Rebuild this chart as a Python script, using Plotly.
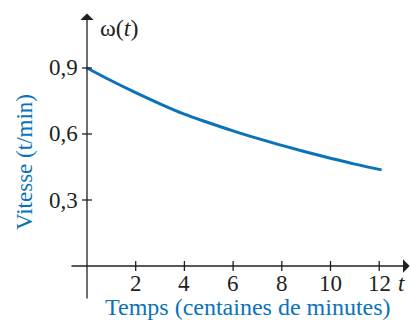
import plotly.graph_objects as go

# Angular speed over time
temps = [0, 1, 2, 3, 4, 5, 6, 7, 8, 9, 10, 11, 12.1]
vitesse = [0.900, 0.842, 0.788, 0.737, 0.690, 0.651, 0.614, 0.580, 0.548, 0.518, 0.490, 0.463, 0.437]

x_ticks = [2, 4, 6, 8, 10, 12]
x_tick_labels = ["2", "4", "6", "8", "10", "12"]
y_ticks = [0.3, 0.6, 0.9]
y_tick_labels = ["0,3", "0,6", "0,9"]

BLUE = "#0a72ba"
INK = "#231f20"
SERIF = "Liberation Serif"

fig = go.Figure()
fig.add_trace(go.Scatter(
    x=temps, y=vitesse, mode="lines",
    line=dict(color=BLUE, width=3, shape="spline"),
    hoverinfo="skip", showlegend=False,
))

X_MIN, X_MAX = -3.573, 13.265
Y_MIN, Y_MAX = -0.2545, 1.209

annotations = []
shapes = []

# Axes drawn as arrows through the origin
annotations.append(dict(
    x=13.25, y=0, ax=-0.70, ay=0, xref="x", yref="y", axref="x", ayref="y",
    showarrow=True, arrowhead=1, arrowsize=1.7, arrowwidth=1.3, arrowcolor=INK, text="",
))
annotations.append(dict(
    x=0, y=1.148, ax=0, ay=-0.155, xref="x", yref="y", axref="x", ayref="y",
    showarrow=True, arrowhead=1, arrowsize=1.7, arrowwidth=1.3, arrowcolor=INK, text="",
))

# Ticks crossing the axes
for v, lab in zip(x_ticks, x_tick_labels):
    shapes.append(dict(type="line", xref="x", yref="y", ysizemode="pixel", yanchor=0,
                       x0=v, x1=v, y0=-5, y1=5, line=dict(color=INK, width=1.3)))
    annotations.append(dict(x=v, y=0, xref="x", yref="y", text=lab, showarrow=False,
                            xanchor="center", yanchor="top", yshift=-3,
                            font=dict(family=SERIF, size=23, color=INK)))
for v, lab in zip(y_ticks, y_tick_labels):
    shapes.append(dict(type="line", xref="x", yref="y", xsizemode="pixel", xanchor=0,
                       x0=-5, x1=5, y0=v, y1=v, line=dict(color=INK, width=1.3)))
    annotations.append(dict(x=0, y=v, xref="x", yref="y", text=lab, showarrow=False,
                            xanchor="right", yanchor="middle", xshift=-7,
                            font=dict(family=SERIF, size=23, color=INK)))

# Axis names
annotations.append(dict(x=0, y=1.082, xref="x", yref="y", text="ω(<i>t</i>)", showarrow=False,
                        xanchor="left", yanchor="middle", xshift=11,
                        font=dict(family=SERIF, size=24, color=INK)))
annotations.append(dict(x=13.265, y=0, xref="x", yref="y", text="<i>t</i>", showarrow=False,
                        xanchor="right", yanchor="top", yshift=-3, xshift=-3,
                        font=dict(family=SERIF, size=23, color=INK)))

# Axis titles
annotations.append(dict(x=248, y=0, xref="paper", yref="paper", text="Temps (centaines de minutes)",
                        showarrow=False, xanchor="center", yanchor="bottom",
                        font=dict(family=SERIF, size=24, color=BLUE)))
annotations.append(dict(x=25, y=160, xref="paper", yref="paper", text="Vitesse (t/min)",
                        showarrow=False, xanchor="center", yanchor="middle", textangle=-90,
                        font=dict(family=SERIF, size=23, color=BLUE)))

# Paper coordinates given in pixels above are converted to fractions
for a in annotations:
    if a.get("xref") == "paper":
        a["x"] = a["x"] / 410
        a["y"] = a["y"] / 322

fig.update_layout(
    width=410, height=322,
    margin=dict(l=0, r=0, t=0, b=0),
    paper_bgcolor="white", plot_bgcolor="white",
    xaxis=dict(range=[X_MIN, X_MAX], visible=False),
    yaxis=dict(range=[Y_MIN, Y_MAX], visible=False),
    annotations=annotations, shapes=shapes,
)

fig.write_html("out.html")
